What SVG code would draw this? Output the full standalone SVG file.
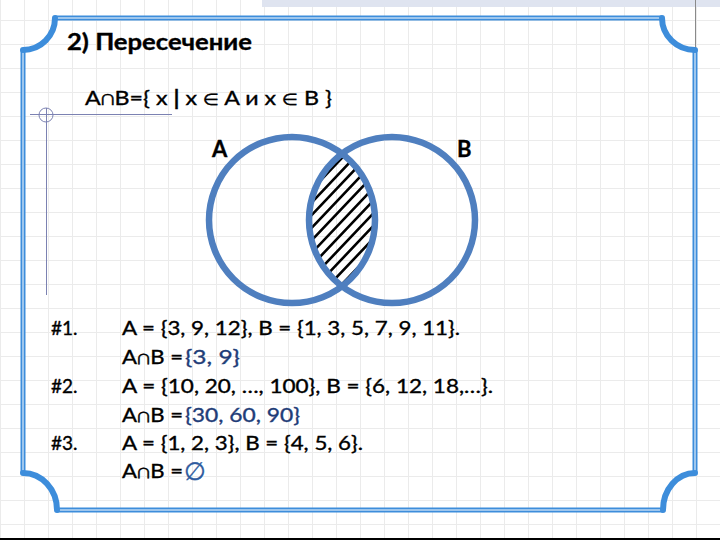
<svg xmlns="http://www.w3.org/2000/svg" width="720" height="540" viewBox="0 0 720 540">
<style>
.t{font-family:"Lato","Noto Sans","DejaVu Sans",sans-serif;fill:#000;stroke:#000;stroke-width:0.35}
.m{font-size:19px}
.blue{fill:#1f3d78;stroke:#1f3d78}
.edge{fill:none;stroke:#3d8ddb;stroke-width:5}
.inner{fill:none;stroke:#ffffff;stroke-width:1}
.arc{fill:none;stroke:#3d8ddb;stroke-width:6;stroke-linecap:round}
.circ{fill:none;stroke:#4f7fbf;stroke-width:6.5}
.hatch{stroke:#000;stroke-width:2.6}
.deco{stroke:#7c82b2;stroke-width:1;fill:none}
</style>
<defs>
<pattern id="grid" patternUnits="userSpaceOnUse" x="0" y="20" width="24" height="24">
<path d="M0,0.5 H24 M0.5,0 V24" stroke="#ebebeb" stroke-width="1" fill="none"/>
</pattern>
<clipPath id="ca"><circle cx="292" cy="220" r="83"/></clipPath>
<clipPath id="cb"><circle cx="392" cy="220" r="83"/></clipPath>
</defs>
<rect width="720" height="540" fill="#ffffff"/>
<rect width="720" height="540" fill="url(#grid)"/>
<rect x="262" y="0" width="458" height="7" fill="#dfe4f0"/>
<line x1="695.5" y1="0" x2="695.5" y2="48" stroke="#8a8a8a" stroke-width="1"/>
<rect x="0" y="538" width="720" height="2" fill="#000"/>

<g id="frame">
<path class="edge" d="M55,18 H662 M695,50 V473 M663,510 H57 M23,473 V50"/>
<path class="inner" d="M55,18 H662 M695,50 V473 M663,510 H57 M23,473 V50"/>
<path class="arc" d="M23,50 A32,32 0 0 0 55,18 M662,18 A33,32 0 0 0 695,50 M695,473 A32,37 0 0 0 663,510 M57,510 A34,37 0 0 0 23,473"/>
</g>

<g id="decoration">
<circle class="deco" cx="46" cy="115" r="7" stroke="#b0b4cc"/>
<line class="deco" x1="30" y1="114.5" x2="172" y2="114.5"/>
<line class="deco" x1="46.5" y1="108" x2="46.5" y2="295"/>
</g>

<g id="title">
<text class="t" x="67" y="50" font-size="23" font-weight="bold" textLength="185" lengthAdjust="spacingAndGlyphs">2) Пересечение</text>
<text class="t" x="85" y="105" font-size="20" textLength="247" lengthAdjust="spacingAndGlyphs">A∩B={ x <tspan font-weight="bold">|</tspan> x <tspan font-size="16">∈</tspan> A и x <tspan font-size="16">∈</tspan> B }</text>
</g>

<g id="hatching" clip-path="url(#ca)">
<g clip-path="url(#cb)">
<path class="hatch" d="M378,120 L188,320 M390,120 L200,320 M402,120 L212,320 M414,120 L224,320 M426,120 L236,320 M438,120 L248,320 M450,120 L260,320 M462,120 L272,320 M474,120 L284,320 M486,120 L296,320 M498,120 L308,320 M510,120 L320,320"/>
</g>
</g>

<g id="setA">
<circle class="circ" cx="292" cy="220" r="83"/>
<text class="t" x="212" y="157" font-size="22" font-weight="bold">A</text>
</g>
<g id="setB">
<circle class="circ" cx="392" cy="220" r="83"/>
<text class="t" x="457" y="157" font-size="22" font-weight="bold">B</text>
</g>

<g id="examples">
<text class="t m" x="51" y="335">#1.</text>
<text class="t m" x="122" y="335" textLength="338" lengthAdjust="spacingAndGlyphs">A = {3, 9, 12}, B = {1, 3, 5, 7, 9, 11}.</text>
<text class="t m" x="122" y="364" textLength="61" lengthAdjust="spacingAndGlyphs">A∩B =</text>
<text class="t m blue" x="185" y="364" textLength="55" lengthAdjust="spacingAndGlyphs">{3, 9}</text>
<text class="t m" x="51" y="393">#2.</text>
<text class="t m" x="122" y="393" textLength="371" lengthAdjust="spacingAndGlyphs">A = {10, 20, …, 100}, B = {6, 12, 18,…}.</text>
<text class="t m" x="122" y="422" textLength="61" lengthAdjust="spacingAndGlyphs">A∩B =</text>
<text class="t m blue" x="185" y="422" textLength="115" lengthAdjust="spacingAndGlyphs">{30, 60, 90}</text>
<text class="t m" x="51" y="450">#3.</text>
<text class="t m" x="122" y="450" textLength="241" lengthAdjust="spacingAndGlyphs">A = {1, 2, 3}, B = {4, 5, 6}.</text>
<text class="t m" x="122" y="478" textLength="61" lengthAdjust="spacingAndGlyphs">A∩B =</text>
<text class="t" x="184" y="480" font-size="25" style="fill:#2d5a9e;stroke:#2d5a9e">∅</text>
</g>
</svg>
